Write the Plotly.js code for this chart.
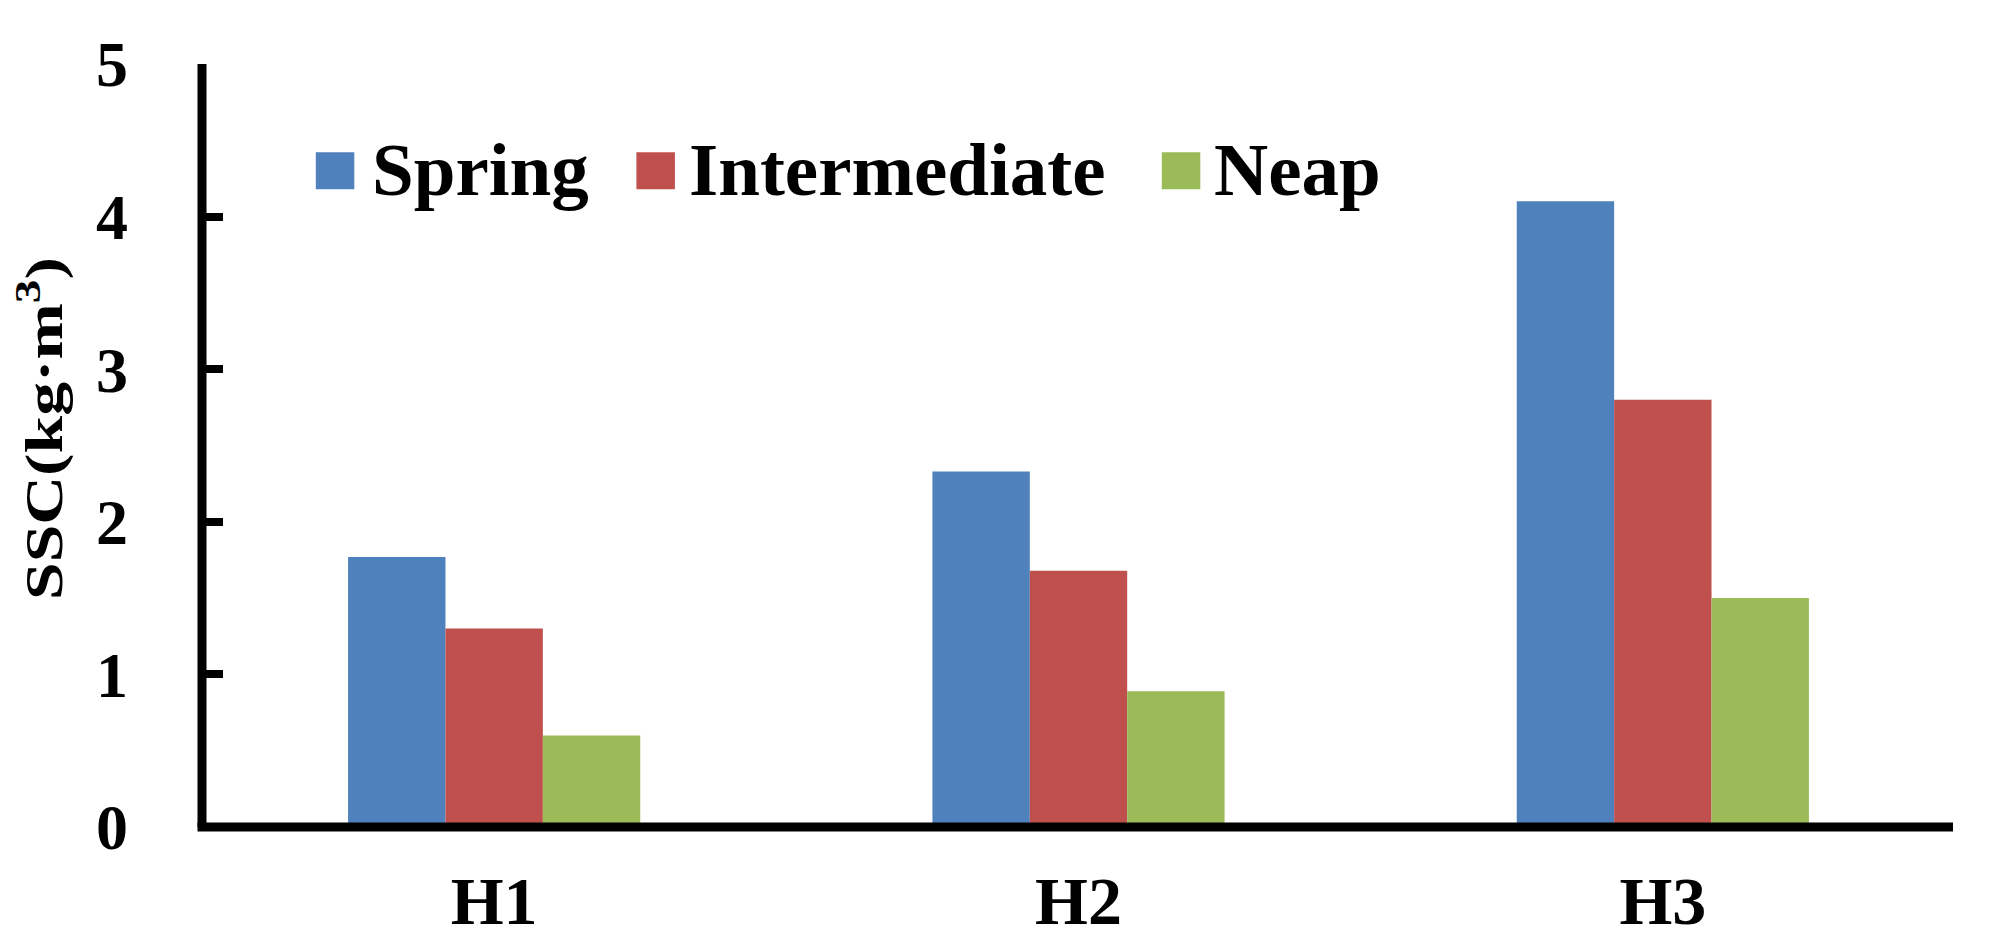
<!DOCTYPE html>
<html>
<head>
<meta charset="utf-8">
<script src="https://cdn.plot.ly/plotly-3.0.1.min.js"></script>
<style>
  html, body { margin: 0; padding: 0; background: #ffffff; }
  #chart { width: 1992px; height: 946px; }
</style>
</head>
<body>
<div id="chart"></div>
<script>
// ---- data ----
const categories = ['H1', 'H2', 'H3'];
const seriesNames = ['Spring', 'Intermediate', 'Neap'];
const spring = [1.77, 2.33, 4.10];
const intermediate = [1.30, 1.68, 2.80];
const neap = [0.60, 0.89, 1.50];
const seriesColors = ['#4F81BD', '#C0504D', '#9BBB59'];
const yTickValues = [0, 1, 2, 3, 4, 5];
const yTitleText = 'SSC(kg·m<sup>3</sup>)';

// ---- layout constants (pixels) ----
const W = 1992, H = 946;
const M = { l: 202, r: 37, t: 64, b: 118.5 };
const PW = W - M.l - M.r, PH = H - M.t - M.b;
const px2x = px => (px - M.l) / PW;
const px2y = py => (H - M.b - py) / PH;

const FONT = 'Liberation Serif, Times New Roman, serif';
const seriesValues = [spring, intermediate, neap];

const traces = seriesNames.map((name, i) => ({
  type: 'bar',
  name: name,
  x: categories,
  y: seriesValues[i],
  marker: { color: seriesColors[i], line: { width: 0 } },
  showlegend: false,
  hoverinfo: 'x+y+name'
}));

// legend built from shapes + annotations
const legMarkerX = [315.8, 636.4, 1161.8];
const legMarkerW = 38.5;
const legMarkerTop = 152.3, legMarkerBot = 189.3;
const legTextX = [370, 687, 1212];
const legTextY = 170;

const shapes = [];
const annotations = [];
seriesNames.forEach((name, i) => {
  shapes.push({
    type: 'rect', xref: 'paper', yref: 'paper', layer: 'above',
    x0: px2x(legMarkerX[i]), x1: px2x(legMarkerX[i] + legMarkerW),
    y0: px2y(legMarkerBot), y1: px2y(legMarkerTop),
    fillcolor: seriesColors[i], line: { width: 0 }
  });
  annotations.push({
    xref: 'paper', yref: 'paper', x: px2x(legTextX[i]), y: px2y(legTextY),
    xanchor: 'left', yanchor: 'middle', showarrow: false,
    text: name,
    font: { family: FONT, size: 75, color: '#000000', weight: 'bold' }
  });
});

// axis lines as shapes (centered on plot edges like the original)
shapes.push({
  type: 'line', xref: 'paper', yref: 'paper', layer: 'above',
  x0: px2x(197.5), x1: px2x(1953), y0: 0, y1: 0,
  line: { color: '#000000', width: 9 }
});
shapes.push({
  type: 'line', xref: 'paper', yref: 'paper', layer: 'above',
  x0: 0, x1: 0, y0: 0, y1: 1,
  line: { color: '#000000', width: 9 }
});

const layout = {
  width: W, height: H,
  margin: M,
  paper_bgcolor: '#ffffff',
  plot_bgcolor: '#ffffff',
  barmode: 'group',
  bargap: 0.5,
  bargroupgap: 0,
  showlegend: false,
  xaxis: {
    type: 'category',
    showline: false,
    showgrid: false,
    zeroline: false,
    ticks: '',
    ticklabelstandoff: 28,
    tickfont: { family: FONT, size: 68, color: '#000000', weight: 'bold' }
  },
  yaxis: {
    range: [0, 5],
    tickvals: yTickValues,
    ticktext: yTickValues.map(String),
    showline: false,
    showgrid: false,
    zeroline: false,
    ticks: 'inside',
    ticklen: 21,
    tickwidth: 8,
    tickcolor: '#000000',
    ticklabelstandoff: 73,
    tickfont: { family: FONT, size: 64, color: '#000000', weight: 'bold' },
    title: {
      text: yTitleText,
      standoff: 20,
      font: { family: FONT, size: 52, color: '#000000', weight: 'bold' }
    }
  },
  shapes: shapes,
  annotations: annotations
};

Plotly.newPlot('chart', traces, layout, { displayModeBar: false, staticPlot: true }).then(gd => {
  // the original y title is stretched along its length
  const el = gd.querySelector('.ytitle');
  if (!el) return;
  const X0 = 62, Y0 = 428.5, targetLen = 343;
  el.setAttribute('transform', '');
  el.setAttribute('x', X0);
  el.setAttribute('y', Y0);
  const w = el.getBBox().width || 260;
  const s = targetLen / w;
  el.setAttribute('transform',
    `rotate(-90,${X0},${Y0}) translate(${X0},${Y0}) scale(${s},1) translate(${-X0},${-Y0})`);
});
</script>
</body>
</html>
